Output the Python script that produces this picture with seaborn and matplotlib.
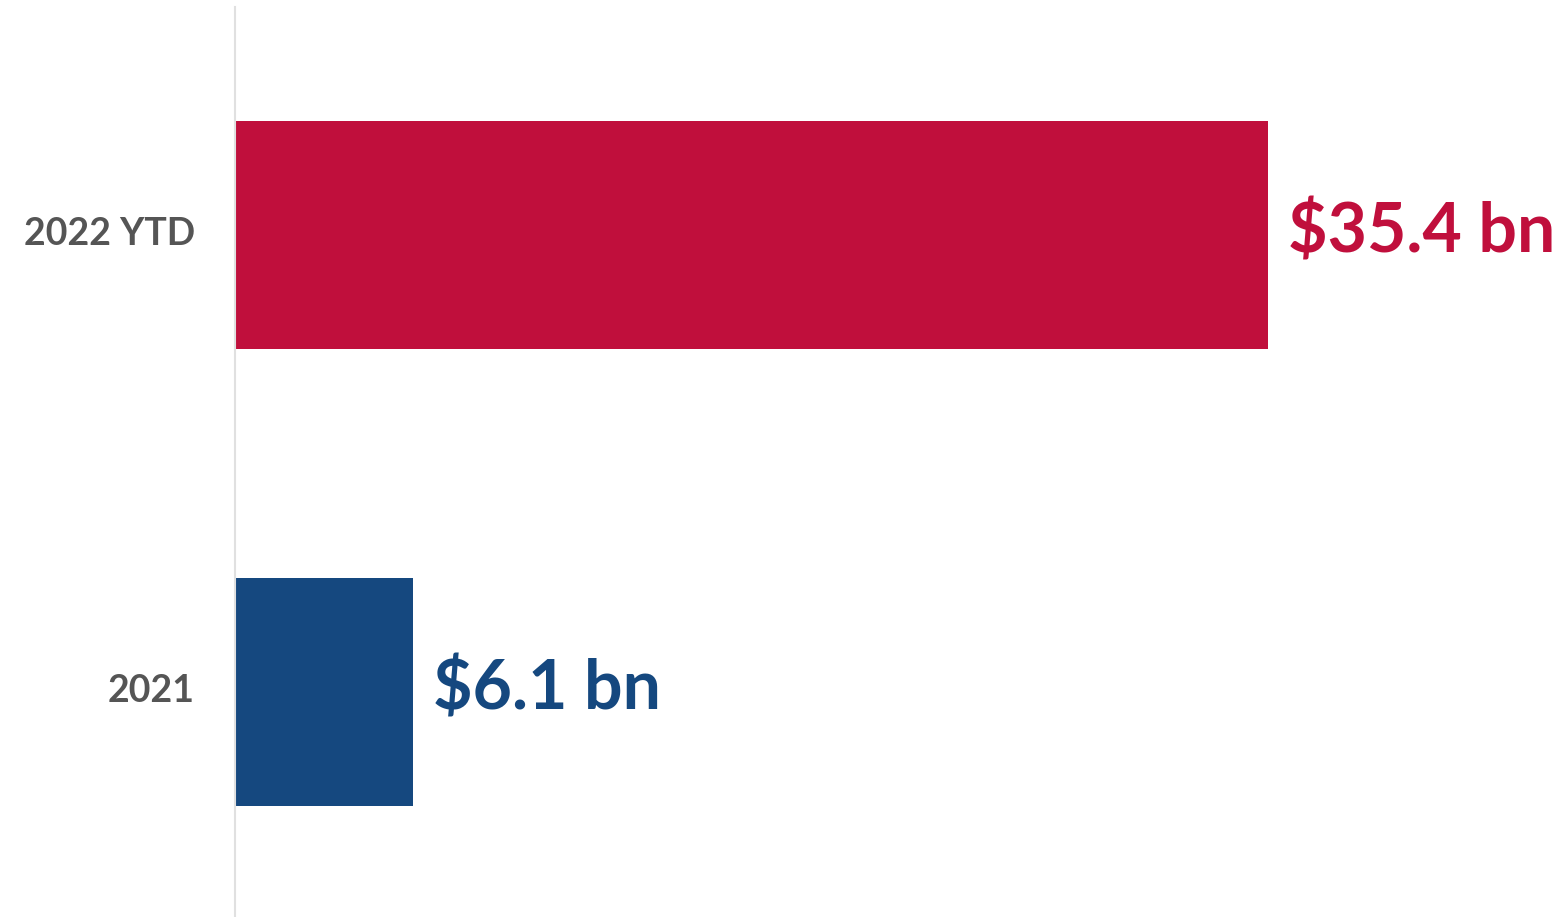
import matplotlib
matplotlib.use("Agg")
import matplotlib.pyplot as plt
import matplotlib.transforms as mtransforms
import seaborn as sns
import pandas as pd

categories = ["2022 YTD", "2021"]
values = [35.4, 6.1]
value_labels = ["$35.4 bn", "$6.1 bn"]
colors = ["#C00F3C", "#15487F"]

sns.set_theme(style="white")
plt.rcParams["font.family"] = ["Lato", "DejaVu Sans"]

df = pd.DataFrame({"period": categories, "amount": values})

W, H = 1566, 917
fig = plt.figure(figsize=(W / 100, H / 100), dpi=100)
ax = fig.add_axes([235 / W, 0, 1 - 235 / W, (H - 7) / H])

sns.barplot(data=df, y="period", x="amount", hue="period", palette=colors,
            order=categories, hue_order=categories, width=0.5,
            legend=False, ax=ax, saturation=1, linewidth=0)

ax.set_xlim(0, 45.6)
ax.set_ylim(1.493, -0.5)
ax.set_xlabel("")
ax.set_ylabel("")
ax.set_xticks([])
ax.tick_params(axis="y", length=0, pad=28.8, labelsize=27, labelcolor="#555555")

# nudge category labels slightly upward
lift = mtransforms.ScaledTranslation(0, 4 / 100, fig.dpi_scale_trans)
for t in ax.get_yticklabels():
    t.set_fontweight("bold")
    t.set_transform(t.get_transform() + lift)

for s in ["top", "right", "bottom"]:
    ax.spines[s].set_visible(False)
ax.spines["left"].set_color("#E0E0E0")
ax.spines["left"].set_linewidth(1.5)

for i, (v, lab, c) in enumerate(zip(values, value_labels, colors)):
    ax.annotate(lab, xy=(v, i), xytext=(14.4, 2), textcoords="offset points",
                ha="left", va="center", color=c, fontsize=49,
                fontweight="bold")

fig.savefig("out.png", dpi=100)
